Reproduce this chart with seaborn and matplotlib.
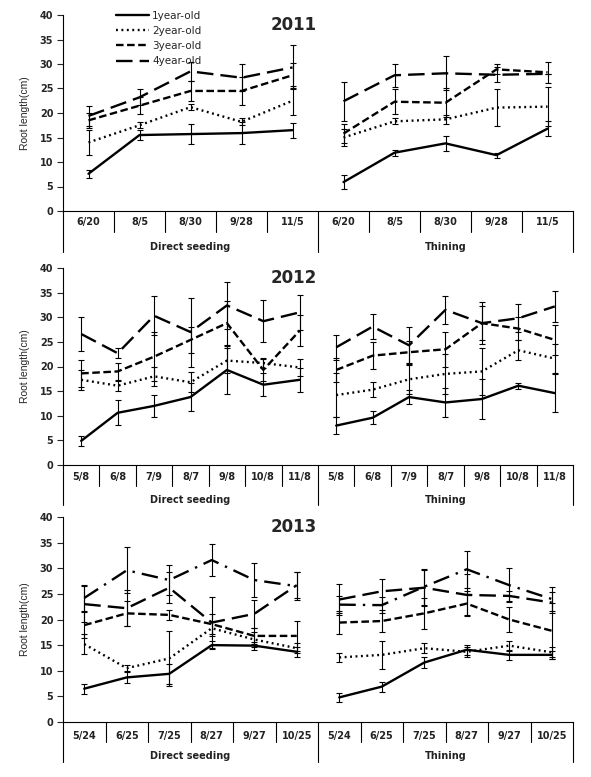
import numpy as np
import pandas as pd
import seaborn as sns
import matplotlib.pyplot as plt
from matplotlib.lines import Line2D

ages = ['1year-old', '2year-old', '3year-old', '4year-old', '5year-old']
groups = ['Direct seeding', 'Thining']

# 2011
dates_2011 = ['6/20', '8/5', '8/30', '9/28', '11/5']
len_2011_ds = [[7.6, 15.5, 15.7, 15.9, 16.5],
               [14.0, 17.5, 21.2, 18.2, 22.5],
               [18.5, 21.5, 24.5, 24.5, 27.7],
               [19.4, 23.2, 28.5, 27.2, 29.3]]
err_2011_ds = [[0.8, 1.0, 2.0, 2.2, 1.5],
               [2.5, 0.6, 0.6, 0.7, 3.0],
               [1.6, 1.8, 2.0, 2.8, 2.6],
               [2.0, 1.6, 2.0, 2.7, 4.5]]
len_2011_th = [[5.9, 11.9, 13.8, 11.4, 16.8],
               [15.0, 18.3, 18.7, 21.1, 21.3],
               [15.8, 22.3, 22.1, 28.9, 28.3],
               [22.4, 27.7, 28.1, 27.8, 28.0]]
err_2011_th = [[1.4, 0.6, 1.5, 0.5, 1.5],
               [1.7, 0.6, 0.9, 3.7, 4.0],
               [2.0, 2.6, 3.0, 1.0, 2.2],
               [4.0, 2.3, 3.5, 1.5, 0.0]]

# 2012
dates_2012 = ['5/8', '6/8', '7/9', '8/7', '9/8', '10/8', '11/8']
len_2012_ds = [[4.9, 10.6, 12.0, 13.8, 19.3, 16.3, 17.3],
               [17.3, 16.1, 18.0, 16.8, 21.2, 20.7, 19.8],
               [18.6, 19.0, 22.0, 25.4, 28.8, 19.3, 27.3],
               [26.6, 22.7, 30.3, 27.0, 32.4, 29.2, 31.0]]
err_2012_ds = [[1.0, 2.5, 2.3, 2.8, 4.9, 2.3, 2.4],
               [2.0, 1.0, 2.0, 2.0, 2.5, 1.0, 1.7],
               [2.7, 1.7, 5.0, 2.7, 4.5, 2.3, 3.2],
               [3.5, 1.0, 4.0, 7.0, 4.8, 4.3, 3.6]]
len_2012_th = [[8.0, 9.6, 13.8, 12.7, 13.4, 16.1, 14.6],
               [14.2, 15.3, 17.4, 18.5, 19.0, 23.3, 21.6],
               [19.3, 22.2, 22.9, 23.5, 28.8, 27.7, 25.4],
               [23.9, 28.1, 24.3, 31.5, 28.8, 29.8, 32.2]]
err_2012_th = [[1.7, 1.3, 1.5, 3.0, 4.0, 0.6, 3.8],
               [4.5, 1.5, 3.0, 4.0, 4.8, 2.0, 3.0],
               [2.5, 2.7, 2.2, 3.5, 3.5, 2.4, 3.0],
               [2.5, 2.5, 3.8, 2.8, 4.2, 2.8, 3.2]]

# 2013
dates_2013 = ['5/24', '6/25', '7/25', '8/27', '9/27', '10/25']
len_2013_ds = [[6.5, 8.7, 9.4, 15.0, 14.9, 13.7],
               [15.2, 10.5, 12.4, 18.3, 16.1, 14.4],
               [18.9, 21.2, 20.9, 19.1, 16.8, 16.8],
               [23.0, 22.2, 26.2, 19.4, 21.1, 26.7],
               [24.2, 29.6, 27.7, 31.6, 27.7, 26.5]]
err_2013_ds = [[1.0, 1.0, 2.0, 0.8, 0.8, 1.0],
               [2.0, 0.6, 5.3, 1.5, 1.5, 1.0],
               [2.5, 2.5, 1.0, 2.0, 1.5, 3.0],
               [3.5, 3.5, 3.0, 5.0, 2.8, 2.5],
               [2.6, 4.5, 3.0, 3.2, 3.4, 2.7]]
len_2013_th = [[4.8, 6.9, 11.6, 14.1, 13.1, 13.1],
               [12.6, 13.1, 14.4, 13.7, 14.9, 13.6],
               [19.4, 19.7, 21.2, 23.1, 20.0, 17.8],
               [23.9, 25.5, 26.2, 24.8, 24.6, 23.3],
               [22.9, 22.8, 26.4, 29.8, 26.7, 24.0]]
err_2013_th = [[0.9, 1.0, 1.0, 1.0, 1.0, 0.8],
               [0.8, 2.8, 1.0, 1.0, 1.0, 1.0],
               [2.2, 2.2, 3.0, 2.5, 2.5, 5.5],
               [3.0, 2.5, 3.5, 4.0, 1.0, 2.0],
               [1.7, 1.5, 3.5, 3.6, 3.3, 2.3]]

panels = [
    ('2011', dates_2011, len_2011_ds, err_2011_ds, len_2011_th, err_2011_th),
    ('2012', dates_2012, len_2012_ds, err_2012_ds, len_2012_th, err_2012_th),
    ('2013', dates_2013, len_2013_ds, err_2013_ds, len_2013_th, err_2013_th),
]

dash_map = {'1year-old': '', '2year-old': (0.8, 1.5), '3year-old': (3.2, 1.5),
            '4year-old': (7, 3), '5year-old': (7, 3, 1, 3)}

sns.set_style('white')
plt.rcParams['font.family'] = ['DejaVu Sans']

W, H = 591, 777
fig = plt.figure(figsize=(W / 100, H / 100), dpi=100)

# axes boxes in pixels: (top, bottom), and table offsets
boxes = [(15, 211), (268, 465), (517, 722)]
row1 = [21, 21, 20]     # category row depth (px)
row2 = [41, 40, 40]     # group row depth (px)
lab1 = [11, 12, 14]
lab2 = [36, 35, 34]
x0, x1 = 63, 573

for i, (year, dates, l_ds, e_ds, l_th, e_th) in enumerate(panels):
    top, bot = boxes[i]
    hpx = bot - top
    ax = fig.add_axes([x0 / W, 1 - bot / H, (x1 - x0) / W, hpx / H])
    n = len(dates)
    rows = []
    for g, (lens, errs) in enumerate([(l_ds, e_ds), (l_th, e_th)]):
        for a, (vals, ev) in enumerate(zip(lens, errs)):
            for k, (v, e) in enumerate(zip(vals, ev)):
                rows.append({'pos': g * n + k, 'length': v, 'err': e,
                             'age': ages[a], 'group': groups[g]})
    df = pd.DataFrame(rows)
    used = ages[:df['age'].nunique()]

    ax.errorbar(df['pos'], df['length'], yerr=df['err'], fmt='none',
                ecolor='black', elinewidth=0.8, capsize=2.5, capthick=0.8)
    sns.lineplot(data=df, x='pos', y='length', style='age', units='group',
                 estimator=None, sort=False, color='black', linewidth=1.7,
                 dashes={a: dash_map[a] for a in used}, style_order=used,
                 legend=False, ax=ax)

    ax.set_xlim(-0.5, 2 * n - 0.5)
    ax.set_ylim(0, 40)
    ax.set_yticks(range(0, 41, 5))
    ax.set_xticks([])
    ax.set_xlabel('')
    ax.set_ylabel('Root length(cm)', family=['Liberation Sans', 'DejaVu Sans'],
                  fontsize=7.5, labelpad=7)
    ax.tick_params(axis='y', direction='out', length=4, width=0.8, labelsize=7,
                   left=True, pad=3)
    for t in ax.get_yticklabels():
        t.set_fontweight('bold')
    for s in ['top', 'right']:
        ax.spines[s].set_visible(False)
    for s in ['left', 'bottom']:
        ax.spines[s].set_linewidth(0.8)
        ax.spines[s].set_color('black')

    trans = ax.get_xaxis_transform()
    f1, f2 = -row1[i] / hpx, -row2[i] / hpx
    labels = dates + dates
    for k, lab in enumerate(labels):
        ax.text(k, -lab1[i] / hpx, lab, transform=trans, ha='center', va='center',
                fontsize=7, fontweight='bold', color='#222222')
        if (k + 1) % n != 0:
            ax.plot([k + 0.5, k + 0.5], [0, f1], transform=trans, color='black',
                    lw=0.8, clip_on=False)
    for xb in [-0.5, n - 0.5, 2 * n - 0.5]:
        ax.plot([xb, xb], [0, f2], transform=trans, color='black', lw=0.8,
                clip_on=False)
    for g, name in enumerate(groups):
        ax.text(g * n + (n - 1) / 2, -lab2[i] / hpx, name, transform=trans,
                ha='center', va='center', fontsize=7, fontweight='bold',
                color='#222222')

    ax.text(0.453, 0.95, year, transform=ax.transAxes, ha='center', va='center',
            fontsize=12, fontweight='bold')

    if i == 0:
        handles = [Line2D([], [], color='black', lw=1.7,
                          linestyle=(0, dash_map[a]) if dash_map[a] else '-')
                   for a in ages[:4]]
        ax.legend(handles, ages[:4], loc='upper left', bbox_to_anchor=(0.085, 1.07),
                  frameon=False, fontsize=7.5, handlelength=3.2, labelspacing=0.5,
                  handletextpad=0.3)

fig.savefig('out.png', dpi=100)
